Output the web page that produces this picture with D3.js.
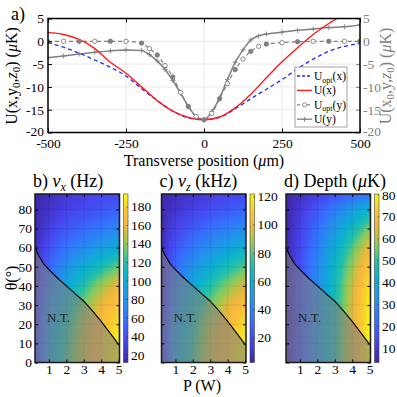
<!DOCTYPE html>
<html><head><meta charset="utf-8">
<script src="https://cdn.jsdelivr.net/npm/d3@7"></script>
<style>
body { margin: 0; background: #fff; }
svg, svg text { font-family: "Liberation Serif", "DejaVu Serif", "Times New Roman", serif !important; }
</style></head>
<body>
<svg width="397" height="397"></svg>
<script>
// ---- panel a: potential cuts ----
const posX = [-500,-450,-400,-350,-300,-250,-200,-150,-100,-50,0,50,100,150,200,250,300,350,400,450,500];
const uOptX = [-0.3,-1.3,-2.6,-4.1,-5.7,-7.6,-10.4,-13.0,-15.3,-16.8,-17.2,-16.7,-14.8,-12.6,-10.5,-8.4,-6.0,-3.9,-2.2,-1.1,-0.5];
const uX    = [1.9,1.5,0.4,-1.6,-4.6,-7.0,-10.0,-13.0,-15.3,-16.7,-17.2,-16.6,-14.6,-11.6,-8.0,-4.5,-1.4,1.5,3.9,6.0,8.0];

const posY = [-500,-450,-400,-350,-300,-250,-200,-175,-150,-125,-100,-75,-50,-25,0,25,50,75,100,125,150,175,200,250,300,350,400,450,500];
const uOptY = [-0.1,0,0,0,0,0,-0.4,-1.6,-3.0,-5.3,-7.8,-11.2,-14.3,-16.5,-17.2,-15.8,-12.6,-9.3,-6.2,-3.9,-2.2,-1.1,-0.6,-0.3,-0.1,0,0,0,0];
const uY    = [-3.6,-3.2,-2.8,-2.4,-2.1,-1.9,-2.0,-2.9,-4.3,-6.2,-8.6,-11.4,-14.3,-16.5,-17.2,-15.4,-12.4,-8.4,-4.6,-1.9,0.3,1.2,1.6,2.0,2.4,2.7,3.0,3.2,3.6];

const xTicksA = [-500,-250,0,250,500];
const yTicksA = [-20,-15,-10,-5,0,5];

// ---- panels b-d: maps over power and angle ----
const powers = [0.2,1,2,3,4,5];           // P (W)
const angles = [0,10,20,30,40,50,60,70,80,90]; // theta (deg)
const nuX = [ // Hz, rows = angles
  [30,88,124,152,176,194],
  [29,86,122,150,174,192],
  [28,82,118,146,168,184],
  [26,74,108,136,158,174],
  [23,64,94,120,142,160],
  [20,52,78,98,116,132],
  [17,40,60,74,86,98],
  [15,30,44,54,63,71],
  [13,22,31,37,43,49],
  [12,18,24,28,32,35]
];
const nuZ = [ // kHz
  [12,52,76,94,108,121],
  [12,51,75,93,107,120],
  [11,48,72,90,103,115],
  [10,43,66,83,96,107],
  [9,37,58,73,85,96],
  [8,30,47,60,70,80],
  [7,23,36,46,54,62],
  [5,16,25,32,38,44],
  [4,10,15,20,24,28],
  [3,6,9,12,14,16]
];
const depth = [ // uK
  [3.5,16,32,48,64,80],
  [3.5,16,32,48,64,80],
  [3.5,16,32,48,64,80],
  [3.5,16,31,47,63,79],
  [3.5,15.5,30,46,62,77],
  [3.5,15,29,44,58,73],
  [3.5,13.5,26,40,53,66],
  [3.5,12,22,34,45,56],
  [3.5,9.5,17,26,34,43],
  [3.4,6,9,13,16,20]
];
// boundary of the non-trapping region (P, theta)
const ntCurve = [[0.2,60],[0.4,56],[0.7,51.5],[1,48.5],[1.5,44],[2,40],[2.5,36],[3,32],[3.5,27],[4,21.5],[4.5,15.5],[5,9.5],[5.05,9]];

const cbTicksB = [20,40,60,80,100,120,140,160,180];
const cbTicksC = [20,40,60,80,100,120];
const cbTicksD = [10,20,30,40,50,60,70,80];

const parula = ["#3e26a8","#4745ef","#376ffe","#2194eb","#0bb1d0","#23c1aa","#7ccb68","#b5c448","#eab83e","#fdbf3a","#f6d72a","#f9fb0e"];
const parulaPos = [0,0.125,0.25,0.375,0.5,0.6,0.68,0.74,0.8,0.87,0.93,1];
const parulaScale = d3.scaleLinear().domain(parulaPos).range(parula).interpolate(d3.interpolateRgb);

const svg = d3.select("svg");
const plain = d => String(d);

// =============== panel a ===============
const x = d3.scaleLinear().domain([-500, 500]).range([48, 360]);
const y = d3.scaleLinear().domain([-20, 5]).range([132.5, 18.5]);
const ga = svg.append("g");

ga.append("clipPath").attr("id", "clipA").append("rect")
  .attr("x", 48).attr("y", 18.5).attr("width", 312).attr("height", 114);

// grid
ga.selectAll(".gx").data([-250, 0, 250]).enter().append("line")
  .attr("x1", d => x(d)).attr("x2", d => x(d)).attr("y1", y(-20)).attr("y2", y(5))
  .attr("stroke", "#e3e3e3").attr("stroke-width", 0.8);
ga.selectAll(".gy").data([-15, -10, -5, 0]).enter().append("line")
  .attr("x1", x(-500)).attr("x2", x(500)).attr("y1", d => y(d)).attr("y2", d => y(d))
  .attr("stroke", "#e3e3e3").attr("stroke-width", 0.8);

let curves = ga.append("g").attr("clip-path", "url(#clipA)");
let lineX = d3.line().x((d, i) => x(posX[i])).y(d => y(d)).curve(d3.curveMonotoneX);
let lineY = d3.line().x((d, i) => x(posY[i])).y(d => y(d)).curve(d3.curveMonotoneX);
const grey = "#808080";

curves.append("path").attr("d", lineY(uY)).attr("fill", "none").attr("stroke", grey).attr("stroke-width", 1.5);
curves.append("path").attr("d", lineY(uOptY)).attr("fill", "none").attr("stroke", grey).attr("stroke-width", 1.2).attr("stroke-dasharray", "4,3");
curves.append("path").attr("d", lineX(uOptX)).attr("fill", "none").attr("stroke", "#1f2fe8").attr("stroke-width", 1.3).attr("stroke-dasharray", "4,3");
curves.append("path").attr("d", lineX(uX)).attr("fill", "none").attr("stroke", "#ff1a1a").attr("stroke-width", 1.4);

// markers
curves.selectAll(".plus").data(uY).enter().append("path")
  .attr("d", (d, i) => `M${x(posY[i]) - 2.5},${y(d)}h5M${x(posY[i])},${y(d) - 2.5}v5`)
  .attr("stroke", grey).attr("stroke-width", 0.9);
curves.selectAll(".circ").data(uOptY).enter().append("circle")
  .attr("cx", (d, i) => x(posY[i])).attr("cy", d => y(d)).attr("r", 2.2)
  .attr("fill", (d, i) => i % 2 ? "#fff" : grey).attr("stroke", grey).attr("stroke-width", 0.9);

// axes
let axB = ga.append("g").attr("transform", "translate(0,132.5)")
  .call(d3.axisBottom(x).tickValues(xTicksA).tickSize(-4).tickPadding(6).tickFormat(plain));
let axT = ga.append("g").attr("transform", "translate(0,18.5)")
  .call(d3.axisTop(x).tickValues(xTicksA).tickSize(-4).tickFormat(""));
let axL = ga.append("g").attr("transform", "translate(48,0)")
  .call(d3.axisLeft(y).tickValues(yTicksA).tickSize(-4).tickPadding(4).tickFormat(plain));
let axR = ga.append("g").attr("transform", "translate(360,0)")
  .call(d3.axisRight(y).tickValues(yTicksA).tickSize(-4).tickPadding(3).tickFormat(plain));
[axB, axT, axL, axR].forEach(a => {
  a.attr("font-family", null);
  a.select(".domain").remove();
  a.selectAll("text").attr("font-size", 13.5).attr("fill", "#000");
  a.selectAll("line").attr("stroke", "#000");
});
axR.selectAll("text").attr("fill", grey);
axR.selectAll("line").attr("stroke", grey);
// lift the lowest side labels a little so they clear the bottom tick labels
axL.selectAll(".tick text").filter(d => d === -20).attr("dy", "0.2em");
axR.selectAll(".tick text").filter(d => d === -20).attr("dy", "0.2em");
ga.append("rect").attr("x", 48).attr("y", 18.5).attr("width", 312).attr("height", 114)
  .attr("fill", "none").attr("stroke", "#000").attr("stroke-width", 1.5);

// labels
ga.append("text").attr("x", 11).attr("y", 20).attr("font-size", 18).text("a)");
let xl = ga.append("text").attr("x", 204).attr("y", 165.5).attr("text-anchor", "middle").attr("font-size", 16);
xl.append("tspan").text("Transverse position (");
xl.append("tspan").attr("font-style", "italic").text("μ");
xl.append("tspan").text("m)");

function potLabel(sel, first) {
  if (first) {
    sel.append("tspan").text("U(x,y");
    sel.append("tspan").attr("font-size", 11).attr("dy", 3).text("0");
    sel.append("tspan").attr("dy", -3).text(",");
  } else {
    sel.append("tspan").text("U(x");
    sel.append("tspan").attr("font-size", 11).attr("dy", 3).text("0");
    sel.append("tspan").attr("dy", -3).text(",y,");
  }
  sel.append("tspan").attr("font-style", "italic").text("z");
  sel.append("tspan").attr("font-size", 11).attr("dy", 3).text("0");
  sel.append("tspan").attr("dy", -3).text(") (");
  sel.append("tspan").attr("font-style", "italic").text("μ");
  sel.append("tspan").text("K)");
}
potLabel(ga.append("text").attr("transform", "translate(17,76) rotate(-90)")
  .attr("text-anchor", "middle").attr("font-size", 16), true);
potLabel(ga.append("text").attr("transform", "translate(391,76) rotate(-90)")
  .attr("text-anchor", "middle").attr("font-size", 16).attr("fill", grey), false);

// legend
let lg = ga.append("g");
lg.append("rect").attr("x", 295).attr("y", 67).attr("width", 52).attr("height", 60)
  .attr("fill", "#fff").attr("stroke", "#8c8c8c").attr("stroke-width", 0.8);
const legendRows = [
  {name: "U", sub: "opt", arg: "(x)", color: "#1f2fe8", dash: "3,2", mark: null},
  {name: "U", sub: "", arg: "(x)", color: "#ff1a1a", dash: null, mark: null},
  {name: "U", sub: "opt", arg: "(y)", color: grey, dash: "3,2", mark: "o"},
  {name: "U", sub: "", arg: "(y)", color: grey, dash: null, mark: "+"}
];
legendRows.forEach((r, i) => {
  let ly = 76 + i * 14.4;
  lg.append("line").attr("x1", 297).attr("x2", 312).attr("y1", ly).attr("y2", ly)
    .attr("stroke", r.color).attr("stroke-width", 1.3).attr("stroke-dasharray", r.dash);
  if (r.mark === "o") lg.append("circle").attr("cx", 304.5).attr("cy", ly).attr("r", 2).attr("fill", "#fff").attr("stroke", grey).attr("stroke-width", 0.9);
  if (r.mark === "+") lg.append("path").attr("d", `M302,${ly}h5M304.5,${ly - 2.5}v5`).attr("stroke", grey).attr("stroke-width", 0.9);
  let t = lg.append("text").attr("x", 314).attr("y", ly + 4).attr("font-size", 11.5);
  t.append("tspan").text(r.name);
  if (r.sub) {
    t.append("tspan").attr("font-size", 8).attr("dy", 2.5).text(r.sub);
    t.append("tspan").attr("dy", -2.5).text(r.arg);
  } else t.append("tspan").text(r.arg);
});

// =============== panels b-d ===============
const top0 = 194, bot0 = 362.5, pw = 84.5;
const findIdx = (arr, v) => Math.max(0, Math.min(arr.length - 2, d3.bisectRight(arr, v) - 1));
function valueAt(grid, P, th) {
  let i = findIdx(powers, P), j = findIdx(angles, th);
  let tp = Math.max(0, Math.min(1, (P - powers[i]) / (powers[i + 1] - powers[i])));
  let tt = Math.max(0, Math.min(1, (th - angles[j]) / (angles[j + 1] - angles[j])));
  let a = d3.interpolateNumber(grid[j][i], grid[j][i + 1])(tp);
  let b = d3.interpolateNumber(grid[j + 1][i], grid[j + 1][i + 1])(tp);
  return d3.interpolateNumber(a, b)(tt);
}

function drawPanel(left, grid, cdom, cticks, writeTitle, showTheta, id) {
  let g = svg.append("g");
  let pS = d3.scaleLinear().domain([0.2, 5.05]).range([left, left + pw]);
  let tS = d3.scaleLinear().domain([0, 88]).range([bot0, top0]);
  let col = d3.scaleLinear().domain(cdom).range([0, 1]).clamp(true);
  let W = Math.round(pw), H = Math.round(bot0 - top0);
  let cv = document.createElement("canvas");
  cv.width = W; cv.height = H;
  let ctx = cv.getContext("2d");
  let img = ctx.createImageData(W, H);
  for (let j = 0; j < H; j++) {
    for (let i = 0; i < W; i++) {
      let v = valueAt(grid, pS.invert(left + i + 0.5), tS.invert(top0 + j + 0.5));
      let c = d3.rgb(parulaScale(col(v)));
      let k = (j * W + i) * 4;
      img.data[k] = c.r; img.data[k + 1] = c.g; img.data[k + 2] = c.b; img.data[k + 3] = 255;
    }
  }
  ctx.putImageData(img, 0, 0);
  g.append("image").attr("x", left).attr("y", top0).attr("width", pw).attr("height", bot0 - top0)
    .attr("preserveAspectRatio", "none").attr("href", cv.toDataURL());

  // grid
  g.selectAll(".vg").data([1, 2, 3, 4, 5]).enter().append("line")
    .attr("x1", d => pS(d)).attr("x2", d => pS(d)).attr("y1", top0).attr("y2", bot0)
    .attr("stroke", "#000").attr("stroke-opacity", 0.1).attr("stroke-width", 0.8);
  g.selectAll(".hg").data([10, 20, 30, 40, 50, 60, 70, 80]).enter().append("line")
    .attr("x1", left).attr("x2", left + pw).attr("y1", d => tS(d)).attr("y2", d => tS(d))
    .attr("stroke", "#000").attr("stroke-opacity", 0.1).attr("stroke-width", 0.8);

  // non-trapping region
  g.append("path").datum(ntCurve)
    .attr("d", d3.area().x(d => pS(d[0])).y0(tS(0)).y1(d => tS(d[1])))
    .attr("fill", "#7d7d7d").attr("fill-opacity", 0.6);
  g.append("path").datum(ntCurve)
    .attr("d", d3.line().x(d => pS(d[0])).y(d => tS(d[1])))
    .attr("fill", "none").attr("stroke", "#000").attr("stroke-width", 1.1);
  g.append("text").attr("x", pS(1.55)).attr("y", tS(23.5) + 4).attr("text-anchor", "middle")
    .attr("font-size", 13).attr("fill", "#1e1e1e").text("N.T.");

  // axes
  let ab = g.append("g").attr("transform", `translate(0,${bot0})`)
    .call(d3.axisBottom(pS).tickValues([1, 2, 3, 4, 5]).tickSize(-3).tickPadding(2).tickFormat(plain));
  let at = g.append("g").attr("transform", `translate(0,${top0})`)
    .call(d3.axisTop(pS).tickValues([1, 2, 3, 4, 5]).tickSize(-3).tickFormat(""));
  let al = g.append("g").attr("transform", `translate(${left},0)`)
    .call(d3.axisLeft(tS).tickValues([0, 10, 20, 30, 40, 50, 60, 70, 80]).tickSize(-3).tickPadding(3)
      .tickFormat(showTheta ? plain : ""));
  let ar = g.append("g").attr("transform", `translate(${left + pw},0)`)
    .call(d3.axisRight(tS).tickValues([0, 10, 20, 30, 40, 50, 60, 70, 80]).tickSize(-3).tickFormat(""));
  [ab, at, al, ar].forEach(a => {
    a.attr("font-family", null);
    a.select(".domain").remove();
    a.selectAll("text").attr("font-size", 13.5).attr("fill", "#000");
    a.selectAll("line").attr("stroke", "#000");
  });
  g.append("rect").attr("x", left).attr("y", top0).attr("width", pw).attr("height", bot0 - top0)
    .attr("fill", "none").attr("stroke", "#1a1a1a").attr("stroke-width", 1.5);

  // colorbar
  let cbx = left + 88.5, cbw = 4.5;
  let cS = d3.scaleLinear().domain(cdom).range([bot0, top0]);
  let gr = svg.append("defs").append("linearGradient").attr("id", "cb" + id)
    .attr("x1", 0).attr("x2", 0).attr("y1", 1).attr("y2", 0);
  d3.range(0, 1.0001, 0.05).forEach(t => gr.append("stop").attr("offset", t).attr("stop-color", parulaScale(t)));
  g.append("rect").attr("x", cbx).attr("y", top0).attr("width", cbw).attr("height", bot0 - top0)
    .attr("fill", `url(#cb${id})`).attr("stroke", "#444").attr("stroke-width", 0.6);
  g.selectAll(".cbt").data(cticks).enter().append("line")
    .attr("x1", cbx + cbw - 1.5).attr("x2", cbx + cbw).attr("y1", d => cS(d)).attr("y2", d => cS(d))
    .attr("stroke", "#333").attr("stroke-width", 0.6);
  g.selectAll(".cbl").data(cticks).enter().append("text")
    .attr("x", cbx + cbw + 3).attr("y", d => cS(d) + 4.5).attr("font-size", 13.5).text(d => d);

  // title
  writeTitle(g.append("text").attr("x", left - 2).attr("y", 187).attr("font-size", 18));
}

function nuTitle(label, sub, unit) {
  return t => {
    t.append("tspan").text(label);
    t.append("tspan").attr("font-style", "italic").text("ν");
    t.append("tspan").attr("font-style", "italic").attr("font-size", 12).attr("dy", 4).text(sub);
    t.append("tspan").attr("dy", -4).text(unit);
  };
}

drawPanel(35, nuX, [12, 194], cbTicksB, nuTitle("b) ", "x", " (Hz)"), true, "b");
drawPanel(161.5, nuZ, [2.3, 122], cbTicksC, nuTitle("c) ", "z", " (kHz)"), false, "c");
drawPanel(286, depth, [3.4, 80.5], cbTicksD, t => {
  t.append("tspan").text("d) Depth (");
  t.append("tspan").attr("font-style", "italic").text("μ");
  t.append("tspan").text("K)");
}, false, "d");

// shared labels
svg.append("text").attr("transform", "translate(17,278) rotate(-90)").attr("text-anchor", "middle")
  .attr("font-size", 16).text("θ(°)");
svg.append("text").attr("x", 202).attr("y", 391).attr("text-anchor", "middle").attr("font-size", 16)
  .text("P (W)");
</script>
</body></html>
